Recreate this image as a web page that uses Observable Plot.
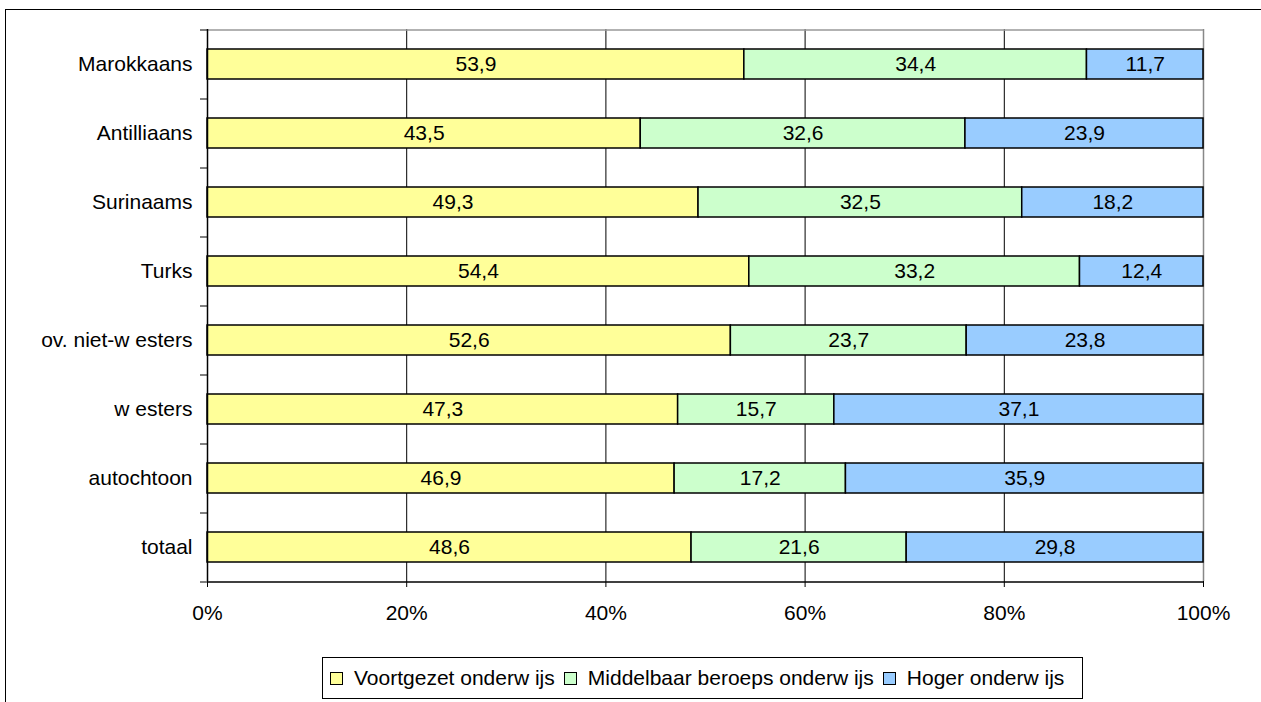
<!DOCTYPE html>
<html>
<head>
<meta charset="utf-8">
<script src="https://cdn.jsdelivr.net/npm/d3@7"></script>
<script src="https://cdn.jsdelivr.net/npm/@observablehq/plot@0.6"></script>
<style>
  html, body { margin: 0; padding: 0; background: #fff; overflow: hidden; }
  body { width: 1261px; height: 702px; position: relative; font-family: Arial, "Liberation Sans", sans-serif; }
  #frame { position: absolute; left: 5px; top: 9px; width: 1400px; height: 800px; border-left: 1.5px solid #000; border-top: 1.5px solid #000; }
  #chart { position: absolute; left: 0; top: 0; }
  #legend { position: absolute; left: 322px; top: 657px; width: 759px; height: 40px; border: 1.5px solid #000; display: flex; align-items: center; box-sizing: content-box; font-size: 21px; color: #000; white-space: nowrap; }
  .item { display: flex; align-items: center; margin-left: 7px; margin-right: 2px; }
  .sw { width: 11px; height: 11px; border: 1.5px solid #000; margin-right: 11px; }
</style>
</head>
<body>
<div id="frame"></div>
<div id="chart"></div>
<div id="legend"></div>
<script>
const categories = ["Marokkaans", "Antilliaans", "Surinaams", "Turks", "ov. niet-w esters", "w esters", "autochtoon", "totaal"];
const series = ["Voortgezet onderw ijs", "Middelbaar beroeps onderw ijs", "Hoger onderw ijs"];
const colors = ["#FFFF99", "#CCFFCC", "#99CCFF"];
const voortgezet = [53.9, 43.5, 49.3, 54.4, 52.6, 47.3, 46.9, 48.6];
const middelbaar = [34.4, 32.6, 32.5, 33.2, 23.7, 15.7, 17.2, 21.6];
const hoger = [11.7, 23.9, 18.2, 12.4, 23.8, 37.1, 35.9, 29.8];
const xTicks = [0, 0.2, 0.4, 0.6, 0.8, 1];

const valuesBySeries = [voortgezet, middelbaar, hoger];
const data = [];
series.forEach((s, si) => {
  categories.forEach((c, ci) => {
    data.push({cat: c, type: s, value: valuesBySeries[si][ci]});
  });
});

const fmt = v => v.toFixed(1).replace(".", ",");
const halfStep = 34.5;

const chart = Plot.plot({
  width: 1261,
  height: 641,
  marginLeft: 207,
  marginRight: 58,
  marginTop: 29,
  marginBottom: 60,
  style: {fontFamily: "Arial, 'Liberation Sans', sans-serif", fontSize: "21px", color: "#000", background: "transparent"},
  x: {domain: [0, 1], axis: null, label: null},
  y: {domain: categories, paddingInner: 0.57, paddingOuter: 0.285, axis: null, label: null},
  color: {domain: series, range: colors},
  marks: [
    Plot.ruleX([0.2, 0.4, 0.6, 0.8], {stroke: "#000", strokeWidth: 1}),
    Plot.ruleX([1], {stroke: "#888", strokeWidth: 1.5}),
    Plot.tickY([categories[0]], {y: d => d, dy: -halfStep, stroke: "#999", strokeWidth: 1.5}),
    Plot.barX(data, Plot.stackX({x: "value", y: "cat", fill: "type", offset: "normalize", stroke: "#000", strokeWidth: 1.5})),
    Plot.text(data, Plot.stackX({x: "value", y: "cat", z: "type", offset: "normalize", text: d => fmt(d.value), fill: "#000", fontSize: 21})),
    Plot.ruleX([0], {stroke: "#000", strokeWidth: 1.5}),
    Plot.tickY([categories[categories.length - 1]], {y: d => d, dy: halfStep, stroke: "#000", strokeWidth: 1.5}),
    Plot.axisY({tickSize: 7, fill: "none", dy: -halfStep, stroke: "#000", label: null}),
    Plot.axisY([categories[categories.length - 1]], {tickSize: 7, fill: "none", dy: halfStep, stroke: "#000", label: null}),
    Plot.axisY({tickSize: 0, tickPadding: 15, fontSize: 21, fill: "#000", label: null}),
    Plot.axisX({ticks: xTicks, tickSize: 6, tickPadding: 18, tickFormat: d => Math.round(d * 100) + "%", fontSize: 21, fill: "#000", stroke: "#000", label: null})
  ]
});
document.getElementById("chart").appendChild(chart);

const legend = document.getElementById("legend");
series.forEach((s, i) => {
  const item = document.createElement("div");
  item.className = "item";
  const sw = document.createElement("div");
  sw.className = "sw";
  sw.style.background = colors[i];
  const t = document.createElement("span");
  t.textContent = s;
  item.appendChild(sw);
  item.appendChild(t);
  legend.appendChild(item);
});
</script>
</body>
</html>
